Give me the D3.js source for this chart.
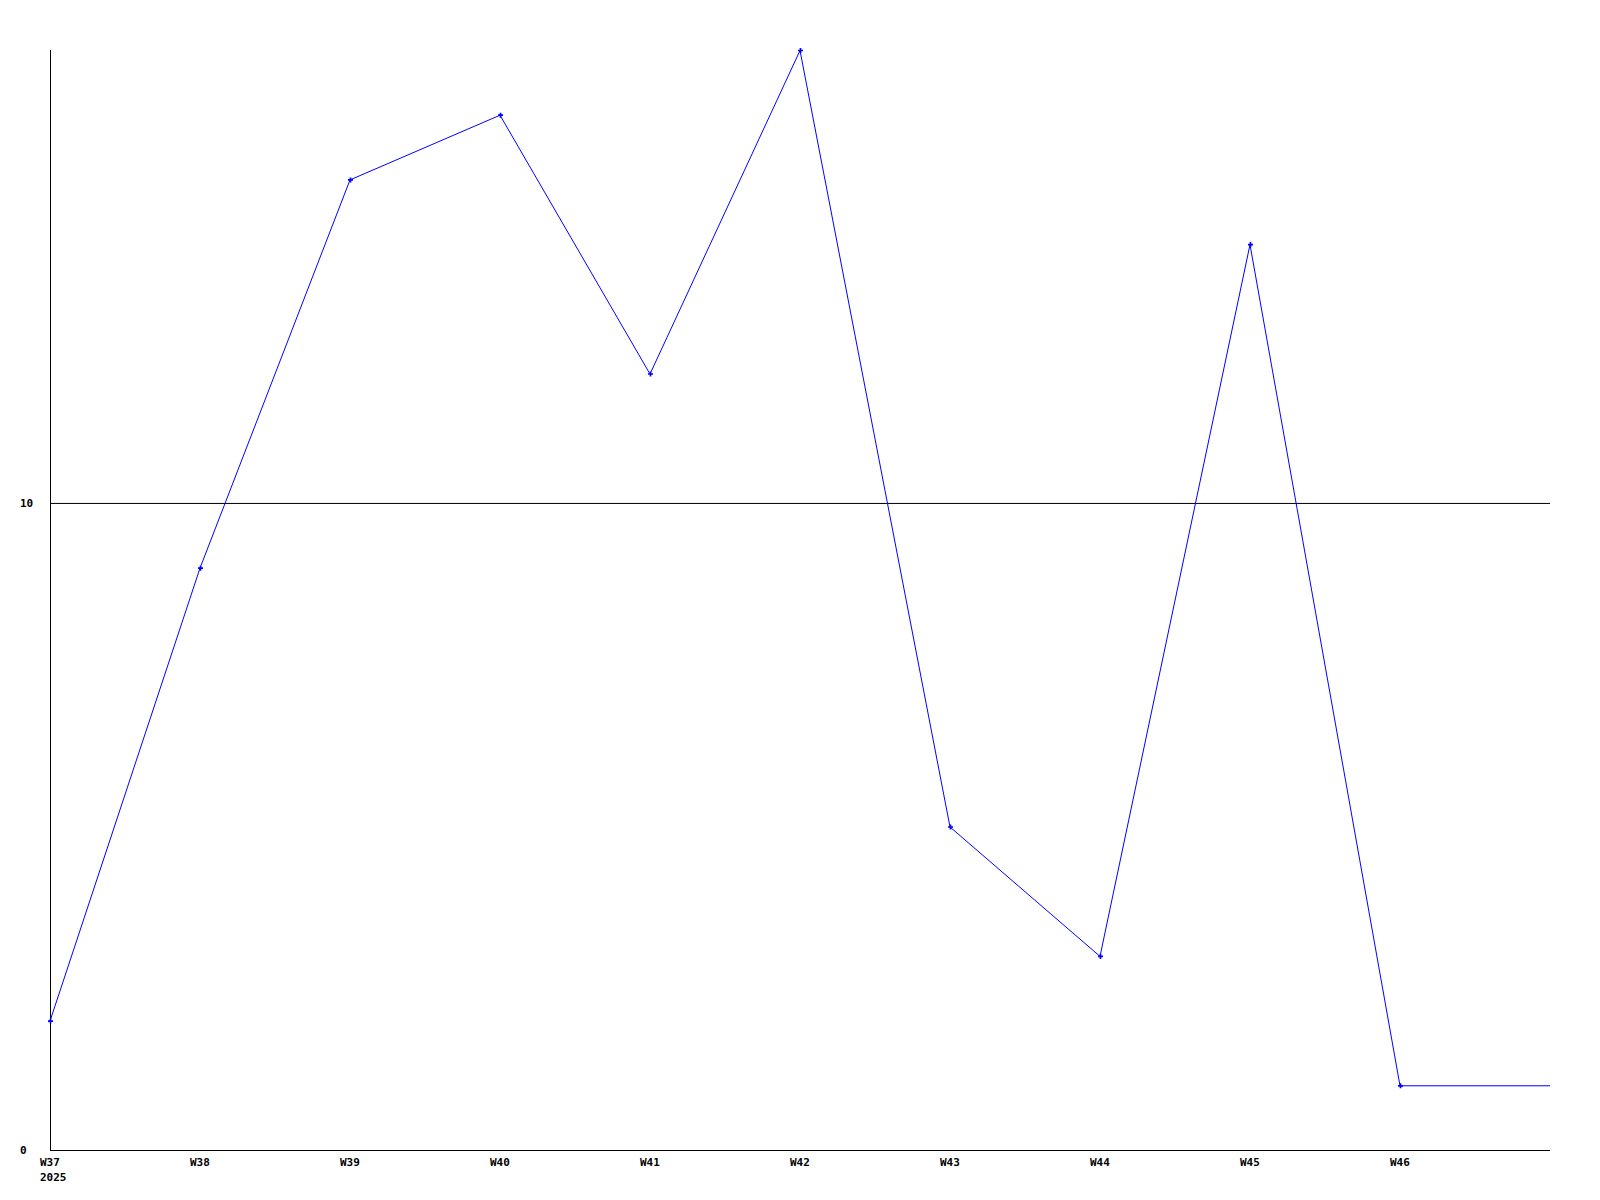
<!DOCTYPE html>
<html>
<head>
<meta charset="utf-8">
<script src="https://d3js.org/d3.v7.min.js"></script>
<style>
  body { margin: 0; background: #fff; }
  text { font-family: "DejaVu Sans Mono", monospace; font-weight: bold; font-size: 11px; fill: #000; }
</style>
</head>
<body>
<div id="chart"></div>
<script>
// weekly values
var weeks = ["W37", "W38", "W39", "W40", "W41", "W42", "W43", "W44", "W45", "W46"];
var counts = [2, 9, 15, 16, 12, 17, 5, 3, 14, 1];
var yTicks = [0, 10];
var yearLabel = "2025";

var width = 1600, height = 1200;
var plotLeft = 50, plotRight = 1550, plotTop = 50, plotBottom = 1150;

var svg = d3.select("#chart").append("svg")
    .attr("width", width).attr("height", height);

// one extra slot at the right end for the open week
var x = d3.scaleLinear().domain([0, weeks.length]).range([plotLeft, plotRight]);
var y = d3.scaleLinear().domain([0, d3.max(counts)]).range([plotBottom, plotTop]);

// grid line at 10
svg.selectAll("line.grid")
    .data(yTicks.filter(d => d > 0))
    .enter().append("line")
    .attr("x1", plotLeft).attr("x2", plotRight)
    .attr("y1", d => y(d) + 0.5).attr("y2", d => y(d) + 0.5)
    .attr("stroke", "#000").attr("stroke-width", 1);

// axes
svg.append("line").attr("x1", plotLeft + 0.5).attr("x2", plotLeft + 0.5)
    .attr("y1", plotTop).attr("y2", plotBottom).attr("stroke", "#000");
svg.append("line").attr("x1", plotLeft).attr("x2", plotRight)
    .attr("y1", plotBottom + 0.5).attr("y2", plotBottom + 0.5).attr("stroke", "#000");

// y labels
svg.selectAll("text.ylab")
    .data(yTicks)
    .enter().append("text")
    .attr("x", 20)
    .attr("y", d => y(d) + 4)
    .text(d => d);

// x labels
svg.selectAll("text.xlab")
    .data(weeks)
    .enter().append("text")
    .attr("x", (d, i) => x(i) - 10)
    .attr("y", plotBottom + 16)
    .text(d => d);
svg.append("text").attr("x", x(0) - 10).attr("y", plotBottom + 31).text(yearLabel);

// the line, carried flat to the right edge
var pts = counts.map((v, i) => [i, v]);
pts.push([weeks.length, counts[counts.length - 1]]);
var line = d3.line().x(d => x(d[0])).y(d => y(d[1]) + 0.5);
svg.append("path").datum(pts)
    .attr("d", line)
    .attr("fill", "none")
    .attr("stroke", "#0000ff")
    .attr("stroke-width", 1);

// point markers
svg.selectAll("path.mark")
    .data(counts)
    .enter().append("path")
    .attr("d", d3.symbol(d3.symbolCross, 14))
    .attr("transform", (d, i) => "translate(" + (x(i) + 0.5) + "," + (y(d) + 0.5) + ")")
    .attr("fill", "#0000ff");
</script>
</body>
</html>
